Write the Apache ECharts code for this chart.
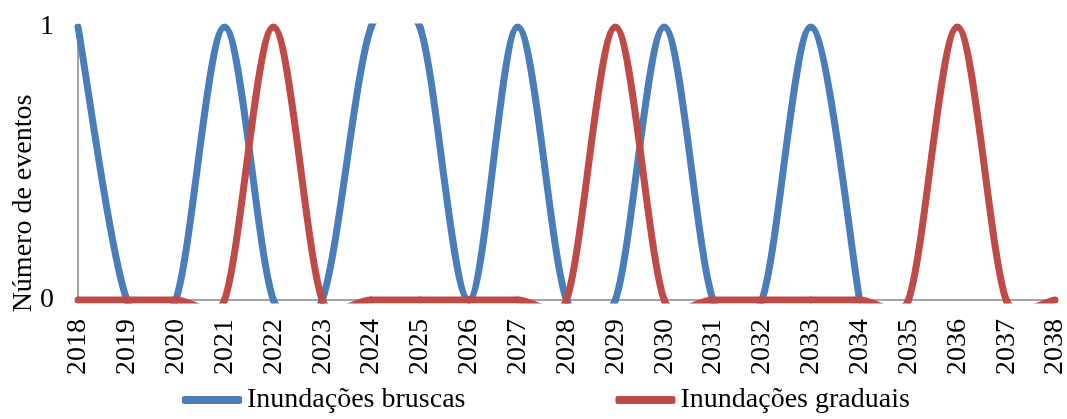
<!DOCTYPE html>
<html>
<head>
<meta charset="utf-8">
<script src="https://cdn.jsdelivr.net/npm/echarts@6/dist/echarts.min.js"></script>
<style>
html,body{margin:0;padding:0;background:#fff;}
#chart{width:1067px;height:419px;}
</style>
</head>
<body>
<div id="chart"></div>
<script>
const years = ['2018','2019','2020','2021','2022','2023','2024','2025','2026','2027','2028','2029','2030','2031','2032','2033','2034','2035','2036','2037','2038'];
const bruscas = [1,0,0,1,0,0,1,1,0,1,0,0,1,0,0,1,0,null,null,null,null];
const graduais = [0,0,0,0,1,0,0,0,0,0,0,1,0,0,0,0,0,0,1,0,0];
const yTicks = [0,1];
const seriesNames = ['Inundações bruscas','Inundações graduais'];
const colors = ['#4A7EBB','#BE4B48'];

const font = 'Liberation Serif';
const LW = 7;

// Excel-like smoothed segment: Bezier with tangents (next - prev)/6, arm capped at half segment length
function makeRender(arr, color){
  return function(params, api){
    const i = params.dataIndex;
    const n = arr.length;
    if (arr[i] == null || i + 1 >= n || arr[i+1] == null) return null;
    const P1 = api.coord([i, arr[i]]);
    const P2 = api.coord([i+1, arr[i+1]]);
    const P0 = (i-1 >= 0 && arr[i-1] != null) ? api.coord([i-1, arr[i-1]]) : P1;
    const P3 = (i+2 < n && arr[i+2] != null) ? api.coord([i+2, arr[i+2]]) : P2;
    const segLen = Math.hypot(P2[0]-P1[0], P2[1]-P1[1]);
    function arm(A, B){
      let tx = (B[0]-A[0])/6, ty = (B[1]-A[1])/6;
      const l = Math.hypot(tx, ty);
      const cap = segLen/2;
      if (l > cap && l > 0){ tx *= cap/l; ty *= cap/l; }
      return [tx, ty];
    }
    const t1 = arm(P0, P2);
    const t2 = arm(P1, P3);
    return {
      type:'bezierCurve',
      shape:{x1:P1[0],y1:P1[1],x2:P2[0],y2:P2[1],
             cpx1:P1[0]+t1[0],cpy1:P1[1]+t1[1],
             cpx2:P2[0]-t2[0],cpy2:P2[1]-t2[1]},
      style:{stroke:color,lineWidth:LW,fill:null,lineCap:'round',lineJoin:'round'}
    };
  };
}

const chart = echarts.init(document.getElementById('chart'));
chart.setOption({
  animation:false,
  grid:{left:78,right:12,top:27,bottom:119,containLabel:false,outerBoundsMode:'none'},
  legend:{
    bottom:0,left:177,itemWidth:60,itemHeight:8,itemGap:150,
    textStyle:{fontFamily:font,fontSize:28,color:'#000'},
    data:seriesNames.map((nm,k)=>({name:nm,icon:'roundRect',itemStyle:{color:colors[k]}}))
  },
  xAxis:{
    type:'category',data:years,boundaryGap:false,
    axisLine:{lineStyle:{color:'#868686',width:1.5}},
    axisTick:{show:false},
    axisLabel:{rotate:90,fontFamily:font,fontSize:28,color:'#000',margin:19,interval:0}
  },
  yAxis:{
    type:'value',min:0,max:1,
    name:'Número de eventos',nameLocation:'middle',nameGap:40,nameMoveOverlap:false,
    nameTextStyle:{fontFamily:font,fontSize:28,color:'#000',padding:[0,80,0,0]},
    axisLine:{show:true,lineStyle:{color:'#868686',width:1.5}},
    axisTick:{show:false},
    splitLine:{show:false},
    axisLabel:{customValues:yTicks,fontFamily:font,fontSize:28,color:'#000',margin:24}
  },
  series:[
    {name:seriesNames[0],type:'custom',clip:true,lineStyle:{width:LW},
     itemStyle:{color:colors[0]},
     encode:{x:0,y:1},
     data:bruscas.map((v,i)=>[i, v==null ? 0 : v]),
     renderItem:makeRender(bruscas, colors[0])},
    {name:seriesNames[1],type:'custom',clip:true,lineStyle:{width:LW},
     itemStyle:{color:colors[1]},
     encode:{x:0,y:1},
     data:graduais.map((v,i)=>[i,v]),
     renderItem:makeRender(graduais, colors[1])}
  ]
});
</script>
</body>
</html>
